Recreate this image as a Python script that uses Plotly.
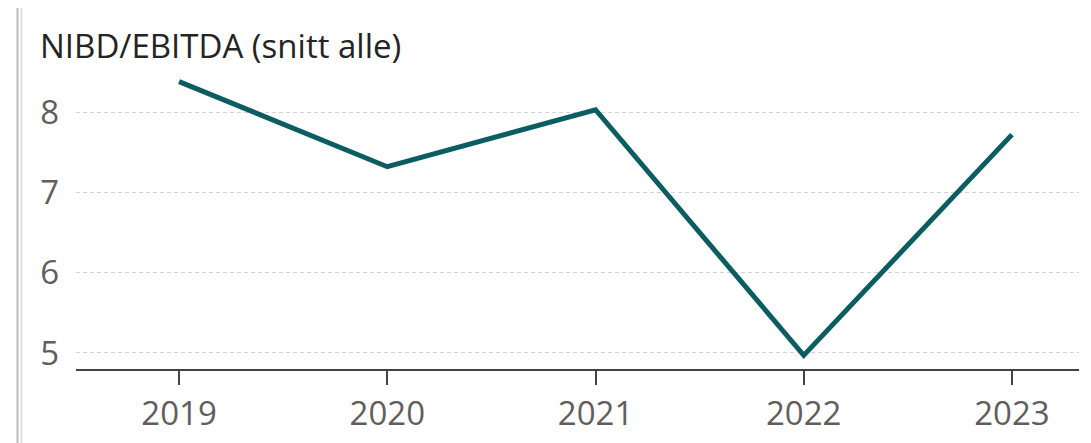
import plotly.graph_objects as go

# data
years = ["2019", "2020", "2021", "2022", "2023"]
nibd_ebitda = [8.38, 7.32, 8.03, 4.97, 7.72]
y_ticks = [5, 6, 7, 8]

line_color = "#0b5d61"
font_family = "Open Sans, Noto Sans, sans-serif"

fig = go.Figure()

fig.add_trace(go.Scatter(
    x=list(range(len(years))),
    y=nibd_ebitda,
    mode="lines",
    line=dict(color=line_color, width=5),
    hoverinfo="skip",
))

# double grey bar on the far left
for off, col, w in [(-58.5, "#bcbcbc", 2), (-54.5, "#d8d8d8", 1.5)]:
    fig.add_shape(
        type="line", xref="paper", yref="paper",
        xsizemode="pixel", ysizemode="pixel",
        xanchor=0, yanchor=0,
        x0=off, x1=off, y0=-90, y1=380,
        line=dict(color=col, width=w),
    )

# page body adds an 8px offset, so margins are shifted by 8
fig.update_layout(
    width=1091, height=443,
    margin=dict(l=68, r=20, t=64, b=82, autoexpand=False),
    paper_bgcolor="white", plot_bgcolor="white",
    showlegend=False,
    font=dict(family=font_family, color="#605e5c", size=33),
    title=dict(
        text="NIBD/EBITDA (snitt alle)",
        xref="container", yref="container",
        x=32 / 1091, xanchor="left",
        y=1 - 38 / 443, yanchor="middle",
        pad=dict(l=0, r=0, t=0, b=0),
        font=dict(family=font_family, size=33, color="#252423"),
    ),
    xaxis=dict(
        tickmode="array",
        tickvals=list(range(len(years))),
        ticktext=years,
        range=[-0.495, 4.322],
        automargin=False,
        showgrid=False, zeroline=False,
        showline=True, linecolor="#444444", linewidth=2,
        ticks="outside", ticklen=14, tickwidth=2, tickcolor="#444444",
        tickfont=dict(size=33, color="#605e5c"),
    ),
    yaxis=dict(
        tickmode="array",
        tickvals=y_ticks,
        range=[4.8, 8.5],
        automargin=False,
        showgrid=True, gridcolor="#d3d3d3", griddash="4px,3px", gridwidth=1,
        zeroline=False, showline=False,
        ticklabelstandoff=16,
        tickfont=dict(size=33, color="#605e5c"),
    ),
)

fig.write_html("out.html")
